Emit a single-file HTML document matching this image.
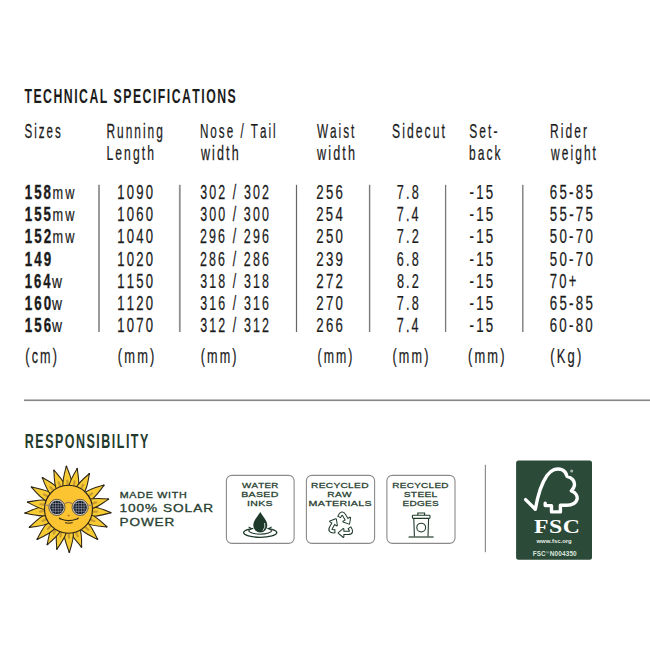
<!DOCTYPE html>
<html><head><meta charset="utf-8"><style>
html,body{margin:0;padding:0;background:#fff;width:650px;height:650px;overflow:hidden}
svg{display:block}
text{font-kerning:none;white-space:pre}
</style></head><body>
<svg width="650" height="650" viewBox="0 0 650 650">
<rect width="650" height="650" fill="#fff"/>
<rect x="98" y="184.8" width="2.0" height="147.2" fill="#9a9a9a"/>
<rect x="178.9" y="184.8" width="1.8" height="147.2" fill="#8f8f8f"/>
<rect x="295.9" y="184.8" width="1.2" height="147.2" fill="#666666"/>
<rect x="368.9" y="184.8" width="1.4" height="147.2" fill="#7a7a7a"/>
<rect x="444.95" y="184.8" width="1.3" height="147.2" fill="#777777"/>
<rect x="522.1" y="184.8" width="1.4" height="147.2" fill="#7d7d7d"/>
<rect x="24" y="399" width="626" height="1" fill="#bdbdbd"/>
<rect x="24" y="400" width="626" height="1.1" fill="#868686"/>
<g><g transform="translate(68.5 509.2) rotate(95.50)"><path d="M -4.6,-22 C -5.4,-27 -3.6,-33.7 -0.6,-42.7 C 2.2,-34.7 5.4,-28 4.6,-22 Z" fill="#f6cb33" stroke="#2e2618" stroke-width="1.05" stroke-linejoin="round"/><path d="M 0,-24.5 L -0.3,-28.5" fill="none" stroke="#b98a2c" stroke-width="2.2" stroke-linecap="round" opacity="0.75"/><circle cx="-0.6" cy="-42.1" r="0.9" fill="#2e2618"/></g><g transform="translate(68.5 509.2) rotate(115.50)"><path d="M -4.6,-22 C -5.4,-27 -3.6,-33.4 -0.6,-42.4 C 2.2,-34.4 5.4,-28 4.6,-22 Z" fill="#f6cb33" stroke="#2e2618" stroke-width="1.05" stroke-linejoin="round"/><path d="M 0,-24.5 L -0.3,-28.5" fill="none" stroke="#b98a2c" stroke-width="2.2" stroke-linecap="round" opacity="0.75"/><circle cx="-0.6" cy="-41.8" r="0.9" fill="#2e2618"/></g><g transform="translate(68.5 509.2) rotate(136.80)"><path d="M -4.6,-22 C -5.4,-27 -3.6,-33.0 -0.6,-42.0 C 2.2,-34.0 5.4,-28 4.6,-22 Z" fill="#f6cb33" stroke="#2e2618" stroke-width="1.05" stroke-linejoin="round"/><path d="M 0,-24.5 L -0.3,-28.5" fill="none" stroke="#b98a2c" stroke-width="2.2" stroke-linecap="round" opacity="0.75"/><circle cx="-0.6" cy="-41.4" r="0.9" fill="#2e2618"/></g><g transform="translate(68.5 509.2) rotate(161.90)"><path d="M -4.6,-22 C -5.4,-27 -3.6,-31.3 -0.6,-40.3 C 2.2,-32.3 5.4,-28 4.6,-22 Z" fill="#f6cb33" stroke="#2e2618" stroke-width="1.05" stroke-linejoin="round"/><path d="M 0,-24.5 L -0.3,-28.5" fill="none" stroke="#b98a2c" stroke-width="2.2" stroke-linecap="round" opacity="0.75"/><circle cx="-0.6" cy="-39.7" r="0.9" fill="#2e2618"/></g><g transform="translate(68.5 509.2) rotate(179.70)"><path d="M -4.6,-22 C -5.4,-27 -3.6,-34.3 -0.6,-43.3 C 2.2,-35.3 5.4,-28 4.6,-22 Z" fill="#f6cb33" stroke="#2e2618" stroke-width="1.05" stroke-linejoin="round"/><path d="M 0,-24.5 L -0.3,-28.5" fill="none" stroke="#b98a2c" stroke-width="2.2" stroke-linecap="round" opacity="0.75"/><circle cx="-0.6" cy="-42.7" r="0.9" fill="#2e2618"/></g><g transform="translate(68.5 509.2) rotate(197.10)"><path d="M -4.6,-22 C -5.4,-27 -3.6,-32.8 -0.6,-41.8 C 2.2,-33.8 5.4,-28 4.6,-22 Z" fill="#f6cb33" stroke="#2e2618" stroke-width="1.05" stroke-linejoin="round"/><path d="M 0,-24.5 L -0.3,-28.5" fill="none" stroke="#b98a2c" stroke-width="2.2" stroke-linecap="round" opacity="0.75"/><circle cx="-0.6" cy="-41.2" r="0.9" fill="#2e2618"/></g><g transform="translate(68.5 509.2) rotate(211.80)"><path d="M -4.6,-22 C -5.4,-27 -3.6,-32.5 -0.6,-41.5 C 2.2,-33.5 5.4,-28 4.6,-22 Z" fill="#f6cb33" stroke="#2e2618" stroke-width="1.05" stroke-linejoin="round"/><path d="M 0,-24.5 L -0.3,-28.5" fill="none" stroke="#b98a2c" stroke-width="2.2" stroke-linecap="round" opacity="0.75"/><circle cx="-0.6" cy="-40.9" r="0.9" fill="#2e2618"/></g><g transform="translate(68.5 509.2) rotate(226.90)"><path d="M -4.6,-22 C -5.4,-27 -3.6,-34.7 -0.6,-43.7 C 2.2,-35.7 5.4,-28 4.6,-22 Z" fill="#f6cb33" stroke="#2e2618" stroke-width="1.05" stroke-linejoin="round"/><path d="M 0,-24.5 L -0.3,-28.5" fill="none" stroke="#b98a2c" stroke-width="2.2" stroke-linecap="round" opacity="0.75"/><circle cx="-0.6" cy="-43.1" r="0.9" fill="#2e2618"/></g><g transform="translate(68.5 509.2) rotate(246.00)"><path d="M -4.6,-22 C -5.4,-27 -3.6,-34.3 -0.6,-43.3 C 2.2,-35.3 5.4,-28 4.6,-22 Z" fill="#f6cb33" stroke="#2e2618" stroke-width="1.05" stroke-linejoin="round"/><path d="M 0,-24.5 L -0.3,-28.5" fill="none" stroke="#b98a2c" stroke-width="2.2" stroke-linecap="round" opacity="0.75"/><circle cx="-0.6" cy="-42.7" r="0.9" fill="#2e2618"/></g><g transform="translate(68.5 509.2) rotate(265.70)"><path d="M -4.6,-22 C -5.4,-27 -3.6,-34.9 -0.6,-43.9 C 2.2,-35.9 5.4,-28 4.6,-22 Z" fill="#f6cb33" stroke="#2e2618" stroke-width="1.05" stroke-linejoin="round"/><path d="M 0,-24.5 L -0.3,-28.5" fill="none" stroke="#b98a2c" stroke-width="2.2" stroke-linecap="round" opacity="0.75"/><circle cx="-0.6" cy="-43.3" r="0.9" fill="#2e2618"/></g><g transform="translate(68.5 509.2) rotate(280.60)"><path d="M -4.6,-22 C -5.4,-27 -3.6,-32.7 -0.6,-41.7 C 2.2,-33.7 5.4,-28 4.6,-22 Z" fill="#f6cb33" stroke="#2e2618" stroke-width="1.05" stroke-linejoin="round"/><path d="M 0,-24.5 L -0.3,-28.5" fill="none" stroke="#b98a2c" stroke-width="2.2" stroke-linecap="round" opacity="0.75"/><circle cx="-0.6" cy="-41.1" r="0.9" fill="#2e2618"/></g><g transform="translate(68.5 509.2) rotate(301.70)"><path d="M -4.6,-22 C -5.4,-27 -3.6,-34.4 -0.6,-43.4 C 2.2,-35.4 5.4,-28 4.6,-22 Z" fill="#f6cb33" stroke="#2e2618" stroke-width="1.05" stroke-linejoin="round"/><path d="M 0,-24.5 L -0.3,-28.5" fill="none" stroke="#b98a2c" stroke-width="2.2" stroke-linecap="round" opacity="0.75"/><circle cx="-0.6" cy="-42.8" r="0.9" fill="#2e2618"/></g><g transform="translate(68.5 509.2) rotate(321.20)"><path d="M -4.6,-22 C -5.4,-27 -3.6,-32.2 -0.6,-41.2 C 2.2,-33.2 5.4,-28 4.6,-22 Z" fill="#f6cb33" stroke="#2e2618" stroke-width="1.05" stroke-linejoin="round"/><path d="M 0,-24.5 L -0.3,-28.5" fill="none" stroke="#b98a2c" stroke-width="2.2" stroke-linecap="round" opacity="0.75"/><circle cx="-0.6" cy="-40.6" r="0.9" fill="#2e2618"/></g><g transform="translate(68.5 509.2) rotate(340.40)"><path d="M -4.6,-22 C -5.4,-27 -3.6,-32.8 -0.6,-41.8 C 2.2,-33.8 5.4,-28 4.6,-22 Z" fill="#f6cb33" stroke="#2e2618" stroke-width="1.05" stroke-linejoin="round"/><path d="M 0,-24.5 L -0.3,-28.5" fill="none" stroke="#b98a2c" stroke-width="2.2" stroke-linecap="round" opacity="0.75"/><circle cx="-0.6" cy="-41.2" r="0.9" fill="#2e2618"/></g><g transform="translate(68.5 509.2) rotate(358.00)"><path d="M -4.6,-22 C -5.4,-27 -3.6,-34.1 -0.6,-43.1 C 2.2,-35.1 5.4,-28 4.6,-22 Z" fill="#f6cb33" stroke="#2e2618" stroke-width="1.05" stroke-linejoin="round"/><path d="M 0,-24.5 L -0.3,-28.5" fill="none" stroke="#b98a2c" stroke-width="2.2" stroke-linecap="round" opacity="0.75"/><circle cx="-0.6" cy="-42.5" r="0.9" fill="#2e2618"/></g><g transform="translate(68.5 509.2) rotate(372.90)"><path d="M -4.6,-22 C -5.4,-27 -3.6,-32.7 -0.6,-41.7 C 2.2,-33.7 5.4,-28 4.6,-22 Z" fill="#f6cb33" stroke="#2e2618" stroke-width="1.05" stroke-linejoin="round"/><path d="M 0,-24.5 L -0.3,-28.5" fill="none" stroke="#b98a2c" stroke-width="2.2" stroke-linecap="round" opacity="0.75"/><circle cx="-0.6" cy="-41.1" r="0.9" fill="#2e2618"/></g><g transform="translate(68.5 509.2) rotate(391.30)"><path d="M -4.6,-22 C -5.4,-27 -3.6,-32.4 -0.6,-41.4 C 2.2,-33.4 5.4,-28 4.6,-22 Z" fill="#f6cb33" stroke="#2e2618" stroke-width="1.05" stroke-linejoin="round"/><path d="M 0,-24.5 L -0.3,-28.5" fill="none" stroke="#b98a2c" stroke-width="2.2" stroke-linecap="round" opacity="0.75"/><circle cx="-0.6" cy="-40.8" r="0.9" fill="#2e2618"/></g><g transform="translate(68.5 509.2) rotate(416.70)"><path d="M -4.6,-22 C -5.4,-27 -3.6,-34.0 -0.6,-43.0 C 2.2,-35.0 5.4,-28 4.6,-22 Z" fill="#f6cb33" stroke="#2e2618" stroke-width="1.05" stroke-linejoin="round"/><path d="M 0,-24.5 L -0.3,-28.5" fill="none" stroke="#b98a2c" stroke-width="2.2" stroke-linecap="round" opacity="0.75"/><circle cx="-0.6" cy="-42.4" r="0.9" fill="#2e2618"/></g><g transform="translate(68.5 509.2) rotate(436.70)"><path d="M -4.6,-22 C -5.4,-27 -3.6,-32.4 -0.6,-41.4 C 2.2,-33.4 5.4,-28 4.6,-22 Z" fill="#f6cb33" stroke="#2e2618" stroke-width="1.05" stroke-linejoin="round"/><path d="M 0,-24.5 L -0.3,-28.5" fill="none" stroke="#b98a2c" stroke-width="2.2" stroke-linecap="round" opacity="0.75"/><circle cx="-0.6" cy="-40.8" r="0.9" fill="#2e2618"/></g></g>
<circle cx="68.5" cy="509.2" r="24" fill="#fcc430" stroke="#2e2618" stroke-width="1.15"/>
<circle cx="56.9" cy="507.4" r="8.1" fill="#cfcac0" stroke="#4a4030" stroke-width="0.8"/>
<circle cx="56.9" cy="507.4" r="6.7" fill="#101828"/>
<g clip-path="url(#lens56)" stroke="#c4c8d4" stroke-width="0.45"><line x1="50.3" y1="503.5" x2="63.5" y2="503.5"/><line x1="53.0" y1="500.8" x2="53.0" y2="514"/><line x1="50.3" y1="506.09999999999997" x2="63.5" y2="506.09999999999997"/><line x1="55.6" y1="500.8" x2="55.6" y2="514"/><line x1="50.3" y1="508.7" x2="63.5" y2="508.7"/><line x1="58.199999999999996" y1="500.8" x2="58.199999999999996" y2="514"/><line x1="50.3" y1="511.29999999999995" x2="63.5" y2="511.29999999999995"/><line x1="60.8" y1="500.8" x2="60.8" y2="514"/></g>
<circle cx="80.1" cy="507.4" r="8.1" fill="#cfcac0" stroke="#4a4030" stroke-width="0.8"/>
<circle cx="80.1" cy="507.4" r="6.7" fill="#101828"/>
<g clip-path="url(#lens80)" stroke="#c4c8d4" stroke-width="0.45"><line x1="73.5" y1="503.5" x2="86.69999999999999" y2="503.5"/><line x1="76.19999999999999" y1="500.8" x2="76.19999999999999" y2="514"/><line x1="73.5" y1="506.09999999999997" x2="86.69999999999999" y2="506.09999999999997"/><line x1="78.8" y1="500.8" x2="78.8" y2="514"/><line x1="73.5" y1="508.7" x2="86.69999999999999" y2="508.7"/><line x1="81.39999999999999" y1="500.8" x2="81.39999999999999" y2="514"/><line x1="73.5" y1="511.29999999999995" x2="86.69999999999999" y2="511.29999999999995"/><line x1="84.0" y1="500.8" x2="84.0" y2="514"/></g>
<defs><clipPath id="lens56"><circle cx="56.9" cy="507.4" r="6.3"/></clipPath><clipPath id="lens80"><circle cx="80.1" cy="507.4" r="6.3"/></clipPath></defs>
<path d="M 64.6,504 Q 68.5,500.8 72.4,504" fill="none" stroke="#a07a48" stroke-width="1.4"/>
<path d="M 48.9,505.6 L 45.2,504.8 M 88.1,505.6 L 91.8,504.8" stroke="#9b8e78" stroke-width="1.3"/>
<ellipse cx="68.6" cy="515.6" rx="1.3" ry="0.8" fill="#b5772c"/>
<path d="M 59.4,518.2 Q 60.5,519 61.5,519.3 Q 68.8,522 76.2,519.3 Q 77.2,519 78.2,518.2" fill="none" stroke="#2e2618" stroke-width="1.2" stroke-linecap="round"/>
<path d="M 65.4,522.8 Q 68.8,523.8 72.3,522.8" fill="none" stroke="#2e2618" stroke-width="1" stroke-linecap="round"/>
<rect x="226.4" y="475.35" width="67.7" height="68.05" rx="5.5" fill="#fff" stroke="#8a8a8a" stroke-width="1.1"/>
<rect x="306.4" y="475.35" width="68.2" height="68.05" rx="5.5" fill="#fff" stroke="#8a8a8a" stroke-width="1.1"/>
<rect x="386.9" y="475.35" width="68.1" height="68.05" rx="5.5" fill="#fff" stroke="#8a8a8a" stroke-width="1.1"/>
<ellipse cx="260.2" cy="532.6" rx="16.6" ry="4.7" fill="none" stroke="#1f3a2b" stroke-width="1.3"/>
<path d="M 248.6,530.2 A 11.6 3.9 0 0 0 271.8,530.2" fill="none" stroke="#1f3a2b" stroke-width="1.15"/>
<path d="M 260.3,512 C 257,517.5 253.3,520.5 253.3,525.6 A 7 7 0 0 0 267.3,525.6 C 267.3,520.5 263.6,517.5 260.3,512 Z" fill="#1f3a2b" stroke="#fff" stroke-width="1.6" paint-order="stroke"/>
<path d="M 264.6,523 Q 266,527.5 262.8,530.6" fill="none" stroke="#fff" stroke-width="0.8"/>
<path d="M 248.6,527 L 251.5,528.6 L 248.9,530.4 M 271.6,527 L 268.8,528.6 L 271.4,530.4" fill="none" stroke="#1f3a2b" stroke-width="1.1"/>
<g transform="translate(341.2 525.3) scale(0.91)"><g transform="rotate(0)"><path d="M 8.79,2.29 L 9.4,3.2 Q 12.9,8.4 7.6,8.4 L 2.4,8.4" fill="none" stroke="#1f3a2b" stroke-width="4.6" stroke-linejoin="round"/><polygon points="2.4,4.1 -2.8,8.4 2.4,12.7" fill="#1f3a2b" stroke="#1f3a2b" stroke-width="2.2" stroke-linejoin="round"/></g><g transform="rotate(120)"><path d="M 8.79,2.29 L 9.4,3.2 Q 12.9,8.4 7.6,8.4 L 2.4,8.4" fill="none" stroke="#1f3a2b" stroke-width="4.6" stroke-linejoin="round"/><polygon points="2.4,4.1 -2.8,8.4 2.4,12.7" fill="#1f3a2b" stroke="#1f3a2b" stroke-width="2.2" stroke-linejoin="round"/></g><g transform="rotate(240)"><path d="M 8.79,2.29 L 9.4,3.2 Q 12.9,8.4 7.6,8.4 L 2.4,8.4" fill="none" stroke="#1f3a2b" stroke-width="4.6" stroke-linejoin="round"/><polygon points="2.4,4.1 -2.8,8.4 2.4,12.7" fill="#1f3a2b" stroke="#1f3a2b" stroke-width="2.2" stroke-linejoin="round"/></g><g transform="rotate(0)"><path d="M 9.4,3.2 Q 12.9,8.4 7.6,8.4 L 0.4,8.4" fill="none" stroke="#fff" stroke-width="2.4" stroke-linejoin="round"/><polygon points="2.4,4.1 -2.8,8.4 2.4,12.7" fill="#fff"/></g><g transform="rotate(120)"><path d="M 9.4,3.2 Q 12.9,8.4 7.6,8.4 L 0.4,8.4" fill="none" stroke="#fff" stroke-width="2.4" stroke-linejoin="round"/><polygon points="2.4,4.1 -2.8,8.4 2.4,12.7" fill="#fff"/></g><g transform="rotate(240)"><path d="M 9.4,3.2 Q 12.9,8.4 7.6,8.4 L 0.4,8.4" fill="none" stroke="#fff" stroke-width="2.4" stroke-linejoin="round"/><polygon points="2.4,4.1 -2.8,8.4 2.4,12.7" fill="#fff"/></g></g>
<g fill="none" stroke="#1f3a2b" stroke-width="1.1"><path d="M 417.8,515.2 L 417.8,513 L 424.6,513 L 424.6,515.2"/><rect x="412.4" y="515.2" width="17.6" height="3.2" rx="0.8"/><path d="M 413.8,518.4 L 414.4,536.6 M 428.6,518.4 L 428,536.6"/><path d="M 408.6,537 L 433.6,537" stroke-width="1.2"/><circle cx="421.2" cy="527.6" r="4.4"/></g>
<rect x="484.8" y="464.8" width="1.2" height="87.4" fill="#8e8e8e"/>
<rect x="516.1" y="460.5" width="75.9" height="99.3" rx="2.5" fill="#2b4a38"/>
<path d="M 525.6,499.6 L 535.3,509.2 C 537.5,497 541,484 547,475.5 C 551,469.8 557,467.6 562,469.8 C 564.6,471 566.4,473.2 567,476.3 C 571.8,477.4 575,481.2 574.4,485.4 C 574,487.8 572.8,489.6 571.4,490.8 C 575.8,492.4 577.8,496.2 577,499.6 C 575.8,503.6 571.2,505.4 566,505.3 L 560.4,505.3 L 560.4,511.9 L 551.5,511.9 L 551.5,505.6 L 545.2,505.6 L 545.2,503.2" fill="none" stroke="#fff" stroke-width="3.4" stroke-linejoin="round" stroke-linecap="round"/>
<circle cx="571.7" cy="470.9" r="1.5" fill="#a9b8ae"/>
<text transform="translate(24.48 103.3) scale(0.6279 1.0)" font-family='"Liberation Sans", sans-serif' font-weight="700" font-size="19.57" letter-spacing="2.35" fill="#1b1b1b">TECHNICAL SPECIFICATIONS</text>
<text transform="translate(24.55 137.8) scale(0.5748 1.0)" font-family='"Liberation Sans", sans-serif' font-weight="400" font-size="20.14" letter-spacing="3.42" fill="#1b1b1b" stroke="#1b1b1b" stroke-width="0.25">Sizes</text>
<text transform="translate(106.42 137.8) scale(0.5909 1.0)" font-family='"Liberation Sans", sans-serif' font-weight="400" font-size="20.14" letter-spacing="3.42" fill="#1b1b1b" stroke="#1b1b1b" stroke-width="0.25">Running</text>
<text transform="translate(199.94 137.8) scale(0.5807 1.0)" font-family='"Liberation Sans", sans-serif' font-weight="400" font-size="20.14" letter-spacing="3.42" fill="#1b1b1b" stroke="#1b1b1b" stroke-width="0.25">Nose / Tail</text>
<text transform="translate(316.91 137.8) scale(0.5843 1.0)" font-family='"Liberation Sans", sans-serif' font-weight="400" font-size="20.14" letter-spacing="3.42" fill="#1b1b1b" stroke="#1b1b1b" stroke-width="0.25">Waist</text>
<text transform="translate(392.03 137.8) scale(0.6036 1.0)" font-family='"Liberation Sans", sans-serif' font-weight="400" font-size="20.14" letter-spacing="3.42" fill="#1b1b1b" stroke="#1b1b1b" stroke-width="0.25">Sidecut</text>
<text transform="translate(469.33 137.8) scale(0.5955 1.0)" font-family='"Liberation Sans", sans-serif' font-weight="400" font-size="20.14" letter-spacing="3.42" fill="#1b1b1b" stroke="#1b1b1b" stroke-width="0.25">Set-</text>
<text transform="translate(550.11 137.8) scale(0.5959 1.0)" font-family='"Liberation Sans", sans-serif' font-weight="400" font-size="20.14" letter-spacing="3.42" fill="#1b1b1b" stroke="#1b1b1b" stroke-width="0.25">Rider</text>
<text transform="translate(106.4 159.8) scale(0.6045 1.0)" font-family='"Liberation Sans", sans-serif' font-weight="400" font-size="20.14" letter-spacing="3.42" fill="#1b1b1b" stroke="#1b1b1b" stroke-width="0.25">Length</text>
<text transform="translate(200.88 159.8) scale(0.6217 1.0)" font-family='"Liberation Sans", sans-serif' font-weight="400" font-size="20.14" letter-spacing="3.42" fill="#1b1b1b" stroke="#1b1b1b" stroke-width="0.25">width</text>
<text transform="translate(316.98 159.8) scale(0.6267 1.0)" font-family='"Liberation Sans", sans-serif' font-weight="400" font-size="20.14" letter-spacing="3.42" fill="#1b1b1b" stroke="#1b1b1b" stroke-width="0.25">width</text>
<text transform="translate(469.09 159.8) scale(0.5955 1.0)" font-family='"Liberation Sans", sans-serif' font-weight="400" font-size="20.14" letter-spacing="3.42" fill="#1b1b1b" stroke="#1b1b1b" stroke-width="0.25">back</text>
<text transform="translate(551.07 159.8) scale(0.5961 1.0)" font-family='"Liberation Sans", sans-serif' font-weight="400" font-size="20.14" letter-spacing="3.42" fill="#1b1b1b" stroke="#1b1b1b" stroke-width="0.25">weight</text>
<text transform="translate(24.82 199) scale(0.6564 1.0)" font-family='"Liberation Sans", sans-serif' font-weight="700" font-size="20.29" letter-spacing="3.04" fill="#1b1b1b" stroke="#1b1b1b" stroke-width="0.35">158</text>
<text transform="translate(52.45 199) scale(0.6333 0.92)" font-family='"Liberation Sans", sans-serif' font-weight="400" font-size="20.14" letter-spacing="3.42" fill="#1b1b1b" stroke="#1b1b1b" stroke-width="0.25">mw</text>
<text transform="translate(117.3 199) scale(0.6512 1.0)" font-family='"Liberation Sans", sans-serif' font-weight="400" font-size="20.14" letter-spacing="3.42" fill="#1b1b1b" stroke="#1b1b1b" stroke-width="0.25">1090</text>
<text transform="translate(200.18 199) scale(0.6182 1.0)" font-family='"Liberation Sans", sans-serif' font-weight="400" font-size="20.14" letter-spacing="3.42" fill="#1b1b1b" stroke="#1b1b1b" stroke-width="0.25">302 / 302</text>
<text transform="translate(316.32 199) scale(0.6568 1.0)" font-family='"Liberation Sans", sans-serif' font-weight="400" font-size="20.14" letter-spacing="3.42" fill="#1b1b1b" stroke="#1b1b1b" stroke-width="0.25">256</text>
<text transform="translate(396.85 199) scale(0.6279 1.0)" font-family='"Liberation Sans", sans-serif' font-weight="400" font-size="20.14" letter-spacing="3.42" fill="#1b1b1b" stroke="#1b1b1b" stroke-width="0.25">7.8</text>
<text transform="translate(469.48 199) scale(0.6609 1.0)" font-family='"Liberation Sans", sans-serif' font-weight="400" font-size="20.14" letter-spacing="3.42" fill="#1b1b1b" stroke="#1b1b1b" stroke-width="0.25">-15</text>
<text transform="translate(549.72 199) scale(0.6619 1.0)" font-family='"Liberation Sans", sans-serif' font-weight="400" font-size="20.14" letter-spacing="3.42" fill="#1b1b1b" stroke="#1b1b1b" stroke-width="0.25">65-85</text>
<text transform="translate(24.82 221.17) scale(0.6546 1.0)" font-family='"Liberation Sans", sans-serif' font-weight="700" font-size="20.29" letter-spacing="3.04" fill="#1b1b1b" stroke="#1b1b1b" stroke-width="0.35">155</text>
<text transform="translate(52.45 221.17) scale(0.6333 0.92)" font-family='"Liberation Sans", sans-serif' font-weight="400" font-size="20.14" letter-spacing="3.42" fill="#1b1b1b" stroke="#1b1b1b" stroke-width="0.25">mw</text>
<text transform="translate(117.3 221.17) scale(0.6512 1.0)" font-family='"Liberation Sans", sans-serif' font-weight="400" font-size="20.14" letter-spacing="3.42" fill="#1b1b1b" stroke="#1b1b1b" stroke-width="0.25">1060</text>
<text transform="translate(200.18 221.17) scale(0.6165 1.0)" font-family='"Liberation Sans", sans-serif' font-weight="400" font-size="20.14" letter-spacing="3.42" fill="#1b1b1b" stroke="#1b1b1b" stroke-width="0.25">300 / 300</text>
<text transform="translate(316.32 221.17) scale(0.6534 1.0)" font-family='"Liberation Sans", sans-serif' font-weight="400" font-size="20.14" letter-spacing="3.42" fill="#1b1b1b" stroke="#1b1b1b" stroke-width="0.25">254</text>
<text transform="translate(396.85 221.17) scale(0.6241 1.0)" font-family='"Liberation Sans", sans-serif' font-weight="400" font-size="20.14" letter-spacing="3.42" fill="#1b1b1b" stroke="#1b1b1b" stroke-width="0.25">7.4</text>
<text transform="translate(469.48 221.17) scale(0.6609 1.0)" font-family='"Liberation Sans", sans-serif' font-weight="400" font-size="20.14" letter-spacing="3.42" fill="#1b1b1b" stroke="#1b1b1b" stroke-width="0.25">-15</text>
<text transform="translate(549.85 221.17) scale(0.6598 1.0)" font-family='"Liberation Sans", sans-serif' font-weight="400" font-size="20.14" letter-spacing="3.42" fill="#1b1b1b" stroke="#1b1b1b" stroke-width="0.25">55-75</text>
<text transform="translate(24.81 243.34) scale(0.6598 1.0)" font-family='"Liberation Sans", sans-serif' font-weight="700" font-size="20.29" letter-spacing="3.04" fill="#1b1b1b" stroke="#1b1b1b" stroke-width="0.35">152</text>
<text transform="translate(52.45 243.34) scale(0.6333 0.92)" font-family='"Liberation Sans", sans-serif' font-weight="400" font-size="20.14" letter-spacing="3.42" fill="#1b1b1b" stroke="#1b1b1b" stroke-width="0.25">mw</text>
<text transform="translate(117.3 243.34) scale(0.6512 1.0)" font-family='"Liberation Sans", sans-serif' font-weight="400" font-size="20.14" letter-spacing="3.42" fill="#1b1b1b" stroke="#1b1b1b" stroke-width="0.25">1040</text>
<text transform="translate(200.05 243.34) scale(0.6182 1.0)" font-family='"Liberation Sans", sans-serif' font-weight="400" font-size="20.14" letter-spacing="3.42" fill="#1b1b1b" stroke="#1b1b1b" stroke-width="0.25">296 / 296</text>
<text transform="translate(316.32 243.34) scale(0.6551 1.0)" font-family='"Liberation Sans", sans-serif' font-weight="400" font-size="20.14" letter-spacing="3.42" fill="#1b1b1b" stroke="#1b1b1b" stroke-width="0.25">250</text>
<text transform="translate(396.84 243.34) scale(0.6317 1.0)" font-family='"Liberation Sans", sans-serif' font-weight="400" font-size="20.14" letter-spacing="3.42" fill="#1b1b1b" stroke="#1b1b1b" stroke-width="0.25">7.2</text>
<text transform="translate(469.48 243.34) scale(0.6609 1.0)" font-family='"Liberation Sans", sans-serif' font-weight="400" font-size="20.14" letter-spacing="3.42" fill="#1b1b1b" stroke="#1b1b1b" stroke-width="0.25">-15</text>
<text transform="translate(549.85 243.34) scale(0.6588 1.0)" font-family='"Liberation Sans", sans-serif' font-weight="400" font-size="20.14" letter-spacing="3.42" fill="#1b1b1b" stroke="#1b1b1b" stroke-width="0.25">50-70</text>
<text transform="translate(24.81 265.51) scale(0.6581 1.0)" font-family='"Liberation Sans", sans-serif' font-weight="700" font-size="20.29" letter-spacing="3.04" fill="#1b1b1b" stroke="#1b1b1b" stroke-width="0.35">149</text>
<text transform="translate(117.3 265.51) scale(0.6512 1.0)" font-family='"Liberation Sans", sans-serif' font-weight="400" font-size="20.14" letter-spacing="3.42" fill="#1b1b1b" stroke="#1b1b1b" stroke-width="0.25">1020</text>
<text transform="translate(200.05 265.51) scale(0.6182 1.0)" font-family='"Liberation Sans", sans-serif' font-weight="400" font-size="20.14" letter-spacing="3.42" fill="#1b1b1b" stroke="#1b1b1b" stroke-width="0.25">286 / 286</text>
<text transform="translate(316.32 265.51) scale(0.6585 1.0)" font-family='"Liberation Sans", sans-serif' font-weight="400" font-size="20.14" letter-spacing="3.42" fill="#1b1b1b" stroke="#1b1b1b" stroke-width="0.25">239</text>
<text transform="translate(396.85 265.51) scale(0.6279 1.0)" font-family='"Liberation Sans", sans-serif' font-weight="400" font-size="20.14" letter-spacing="3.42" fill="#1b1b1b" stroke="#1b1b1b" stroke-width="0.25">6.8</text>
<text transform="translate(469.48 265.51) scale(0.6609 1.0)" font-family='"Liberation Sans", sans-serif' font-weight="400" font-size="20.14" letter-spacing="3.42" fill="#1b1b1b" stroke="#1b1b1b" stroke-width="0.25">-15</text>
<text transform="translate(549.85 265.51) scale(0.6588 1.0)" font-family='"Liberation Sans", sans-serif' font-weight="400" font-size="20.14" letter-spacing="3.42" fill="#1b1b1b" stroke="#1b1b1b" stroke-width="0.25">50-70</text>
<text transform="translate(24.82 287.68) scale(0.6478 1.0)" font-family='"Liberation Sans", sans-serif' font-weight="700" font-size="20.29" letter-spacing="3.04" fill="#1b1b1b" stroke="#1b1b1b" stroke-width="0.35">164</text>
<text transform="translate(51.89 287.68) scale(0.6866 0.92)" font-family='"Liberation Sans", sans-serif' font-weight="400" font-size="20.14" letter-spacing="3.42" fill="#1b1b1b" stroke="#1b1b1b" stroke-width="0.25">w</text>
<text transform="translate(117.3 287.68) scale(0.6512 1.0)" font-family='"Liberation Sans", sans-serif' font-weight="400" font-size="20.14" letter-spacing="3.42" fill="#1b1b1b" stroke="#1b1b1b" stroke-width="0.25">1150</text>
<text transform="translate(200.18 287.68) scale(0.6170 1.0)" font-family='"Liberation Sans", sans-serif' font-weight="400" font-size="20.14" letter-spacing="3.42" fill="#1b1b1b" stroke="#1b1b1b" stroke-width="0.25">318 / 318</text>
<text transform="translate(316.32 287.68) scale(0.6602 1.0)" font-family='"Liberation Sans", sans-serif' font-weight="400" font-size="20.14" letter-spacing="3.42" fill="#1b1b1b" stroke="#1b1b1b" stroke-width="0.25">272</text>
<text transform="translate(396.91 287.68) scale(0.6298 1.0)" font-family='"Liberation Sans", sans-serif' font-weight="400" font-size="20.14" letter-spacing="3.42" fill="#1b1b1b" stroke="#1b1b1b" stroke-width="0.25">8.2</text>
<text transform="translate(469.48 287.68) scale(0.6609 1.0)" font-family='"Liberation Sans", sans-serif' font-weight="400" font-size="20.14" letter-spacing="3.42" fill="#1b1b1b" stroke="#1b1b1b" stroke-width="0.25">-15</text>
<text transform="translate(549.73 287.68) scale(0.6475 1.0)" font-family='"Liberation Sans", sans-serif' font-weight="400" font-size="20.14" letter-spacing="3.42" fill="#1b1b1b" stroke="#1b1b1b" stroke-width="0.25">70+</text>
<text transform="translate(24.81 309.85) scale(0.6598 1.0)" font-family='"Liberation Sans", sans-serif' font-weight="700" font-size="20.29" letter-spacing="3.04" fill="#1b1b1b" stroke="#1b1b1b" stroke-width="0.35">160</text>
<text transform="translate(51.89 309.85) scale(0.6866 0.92)" font-family='"Liberation Sans", sans-serif' font-weight="400" font-size="20.14" letter-spacing="3.42" fill="#1b1b1b" stroke="#1b1b1b" stroke-width="0.25">w</text>
<text transform="translate(117.3 309.85) scale(0.6512 1.0)" font-family='"Liberation Sans", sans-serif' font-weight="400" font-size="20.14" letter-spacing="3.42" fill="#1b1b1b" stroke="#1b1b1b" stroke-width="0.25">1120</text>
<text transform="translate(200.18 309.85) scale(0.6170 1.0)" font-family='"Liberation Sans", sans-serif' font-weight="400" font-size="20.14" letter-spacing="3.42" fill="#1b1b1b" stroke="#1b1b1b" stroke-width="0.25">316 / 316</text>
<text transform="translate(316.32 309.85) scale(0.6551 1.0)" font-family='"Liberation Sans", sans-serif' font-weight="400" font-size="20.14" letter-spacing="3.42" fill="#1b1b1b" stroke="#1b1b1b" stroke-width="0.25">270</text>
<text transform="translate(396.85 309.85) scale(0.6279 1.0)" font-family='"Liberation Sans", sans-serif' font-weight="400" font-size="20.14" letter-spacing="3.42" fill="#1b1b1b" stroke="#1b1b1b" stroke-width="0.25">7.8</text>
<text transform="translate(469.48 309.85) scale(0.6609 1.0)" font-family='"Liberation Sans", sans-serif' font-weight="400" font-size="20.14" letter-spacing="3.42" fill="#1b1b1b" stroke="#1b1b1b" stroke-width="0.25">-15</text>
<text transform="translate(549.72 309.85) scale(0.6619 1.0)" font-family='"Liberation Sans", sans-serif' font-weight="400" font-size="20.14" letter-spacing="3.42" fill="#1b1b1b" stroke="#1b1b1b" stroke-width="0.25">65-85</text>
<text transform="translate(24.81 332.02) scale(0.6581 1.0)" font-family='"Liberation Sans", sans-serif' font-weight="700" font-size="20.29" letter-spacing="3.04" fill="#1b1b1b" stroke="#1b1b1b" stroke-width="0.35">156</text>
<text transform="translate(51.89 332.02) scale(0.6866 0.92)" font-family='"Liberation Sans", sans-serif' font-weight="400" font-size="20.14" letter-spacing="3.42" fill="#1b1b1b" stroke="#1b1b1b" stroke-width="0.25">w</text>
<text transform="translate(117.3 332.02) scale(0.6512 1.0)" font-family='"Liberation Sans", sans-serif' font-weight="400" font-size="20.14" letter-spacing="3.42" fill="#1b1b1b" stroke="#1b1b1b" stroke-width="0.25">1070</text>
<text transform="translate(200.18 332.02) scale(0.6182 1.0)" font-family='"Liberation Sans", sans-serif' font-weight="400" font-size="20.14" letter-spacing="3.42" fill="#1b1b1b" stroke="#1b1b1b" stroke-width="0.25">312 / 312</text>
<text transform="translate(316.32 332.02) scale(0.6568 1.0)" font-family='"Liberation Sans", sans-serif' font-weight="400" font-size="20.14" letter-spacing="3.42" fill="#1b1b1b" stroke="#1b1b1b" stroke-width="0.25">266</text>
<text transform="translate(396.85 332.02) scale(0.6241 1.0)" font-family='"Liberation Sans", sans-serif' font-weight="400" font-size="20.14" letter-spacing="3.42" fill="#1b1b1b" stroke="#1b1b1b" stroke-width="0.25">7.4</text>
<text transform="translate(469.48 332.02) scale(0.6609 1.0)" font-family='"Liberation Sans", sans-serif' font-weight="400" font-size="20.14" letter-spacing="3.42" fill="#1b1b1b" stroke="#1b1b1b" stroke-width="0.25">-15</text>
<text transform="translate(549.72 332.02) scale(0.6608 1.0)" font-family='"Liberation Sans", sans-serif' font-weight="400" font-size="20.14" letter-spacing="3.42" fill="#1b1b1b" stroke="#1b1b1b" stroke-width="0.25">60-80</text>
<text transform="translate(25.32 363.2) scale(0.6253 1.0)" font-family='"Liberation Sans", sans-serif' font-weight="400" font-size="20.14" letter-spacing="3.42" fill="#1b1b1b" stroke="#1b1b1b" stroke-width="0.25">(cm)</text>
<text transform="translate(117.81 363.2) scale(0.6395 1.0)" font-family='"Liberation Sans", sans-serif' font-weight="400" font-size="20.14" letter-spacing="3.42" fill="#1b1b1b" stroke="#1b1b1b" stroke-width="0.25">(mm)</text>
<text transform="translate(200.72 363.2) scale(0.6268 1.0)" font-family='"Liberation Sans", sans-serif' font-weight="400" font-size="20.14" letter-spacing="3.42" fill="#1b1b1b" stroke="#1b1b1b" stroke-width="0.25">(mm)</text>
<text transform="translate(317.44 363.2) scale(0.6122 1.0)" font-family='"Liberation Sans", sans-serif' font-weight="400" font-size="20.14" letter-spacing="3.42" fill="#1b1b1b" stroke="#1b1b1b" stroke-width="0.25">(mm)</text>
<text transform="translate(392.52 363.2) scale(0.6268 1.0)" font-family='"Liberation Sans", sans-serif' font-weight="400" font-size="20.14" letter-spacing="3.42" fill="#1b1b1b" stroke="#1b1b1b" stroke-width="0.25">(mm)</text>
<text transform="translate(467.91 363.2) scale(0.6395 1.0)" font-family='"Liberation Sans", sans-serif' font-weight="400" font-size="20.14" letter-spacing="3.42" fill="#1b1b1b" stroke="#1b1b1b" stroke-width="0.25">(mm)</text>
<text transform="translate(550.3 363.2) scale(0.6424 1.0)" font-family='"Liberation Sans", sans-serif' font-weight="400" font-size="20.14" letter-spacing="3.42" fill="#1b1b1b" stroke="#1b1b1b" stroke-width="0.25">(Kg)</text>
<text transform="translate(24.79 448) scale(0.6337 1.0)" font-family='"Liberation Sans", sans-serif' font-weight="700" font-size="19.71" letter-spacing="2.37" fill="#1f3a2b">RESPONSIBILITY</text>
<text transform="translate(119.64 498.3) scale(1.2717 1.0)" font-family='"Liberation Sans", sans-serif' font-weight="400" font-size="8.41" letter-spacing="0.59" fill="#27402f" stroke="#27402f" stroke-width="0.3">MADE WITH</text>
<text transform="translate(119.46 512) scale(1.2245 1.0)" font-family='"Liberation Sans", sans-serif' font-weight="400" font-size="11.16" letter-spacing="0.78" fill="#27402f" stroke="#27402f" stroke-width="0.3">100% SOLAR</text>
<text transform="translate(119.4 526) scale(1.2161 1.0)" font-family='"Liberation Sans", sans-serif' font-weight="400" font-size="11.16" letter-spacing="0.78" fill="#27402f" stroke="#27402f" stroke-width="0.3">POWER</text>
<text transform="translate(242.02 487.6) scale(1.2008 1.0)" font-family='"Liberation Sans", sans-serif' font-weight="400" font-size="8.12" letter-spacing="0.24" fill="#27402f" stroke="#27402f" stroke-width="0.28">WATER</text>
<text transform="translate(241.24 496.8) scale(1.3044 1.0)" font-family='"Liberation Sans", sans-serif' font-weight="400" font-size="8.12" letter-spacing="0.24" fill="#27402f" stroke="#27402f" stroke-width="0.28">BASED</text>
<text transform="translate(247.03 506.4) scale(1.2962 1.0)" font-family='"Liberation Sans", sans-serif' font-weight="400" font-size="8.12" letter-spacing="0.24" fill="#27402f" stroke="#27402f" stroke-width="0.28">INKS</text>
<text transform="translate(311.06 487.6) scale(1.2533 1.0)" font-family='"Liberation Sans", sans-serif' font-weight="400" font-size="8.12" letter-spacing="0.24" fill="#27402f" stroke="#27402f" stroke-width="0.28">RECYCLED</text>
<text transform="translate(327.37 496.8) scale(1.2455 1.0)" font-family='"Liberation Sans", sans-serif' font-weight="400" font-size="8.12" letter-spacing="0.24" fill="#27402f" stroke="#27402f" stroke-width="0.28">RAW</text>
<text transform="translate(308.53 506.4) scale(1.3181 1.0)" font-family='"Liberation Sans", sans-serif' font-weight="400" font-size="8.12" letter-spacing="0.24" fill="#27402f" stroke="#27402f" stroke-width="0.28">MATERIALS</text>
<text transform="translate(392.28 487.6) scale(1.2267 1.0)" font-family='"Liberation Sans", sans-serif' font-weight="400" font-size="8.12" letter-spacing="0.24" fill="#27402f" stroke="#27402f" stroke-width="0.28">RECYCLED</text>
<text transform="translate(403.72 496.8) scale(1.2608 1.0)" font-family='"Liberation Sans", sans-serif' font-weight="400" font-size="8.12" letter-spacing="0.24" fill="#27402f" stroke="#27402f" stroke-width="0.28">STEEL</text>
<text transform="translate(402.47 506.4) scale(1.2358 1.0)" font-family='"Liberation Sans", sans-serif' font-weight="400" font-size="8.12" letter-spacing="0.24" fill="#27402f" stroke="#27402f" stroke-width="0.28">EDGES</text>
<text transform="translate(534.04 533) scale(1.1971 1.0)" font-family='"Liberation Serif", serif' font-weight="700" font-size="19.85" letter-spacing="0.4" fill="#ffffff">FSC</text>
<text transform="translate(536.43 542.8) scale(1.0780 1.0)" font-family='"Liberation Sans", sans-serif' font-weight="700" font-size="5.52" letter-spacing="0" fill="#e8efe9">www.fsc.org</text>
<text transform="translate(532.69 555.9) scale(0.8534 1.0)" font-family='"Liberation Sans", sans-serif' font-weight="700" font-size="7.39" letter-spacing="0.15" fill="#dde6df">FSC</text>
<text transform="translate(545.83 554) scale(1.1234 1.0)" font-family='"Liberation Sans", sans-serif' font-weight="400" font-size="4.17" letter-spacing="0" fill="#dde6df">®</text>
<text transform="translate(549.78 555.9) scale(0.8732 1.0)" font-family='"Liberation Sans", sans-serif' font-weight="700" font-size="7.39" letter-spacing="0.15" fill="#dde6df">N004350</text>
</svg>
</body></html>
